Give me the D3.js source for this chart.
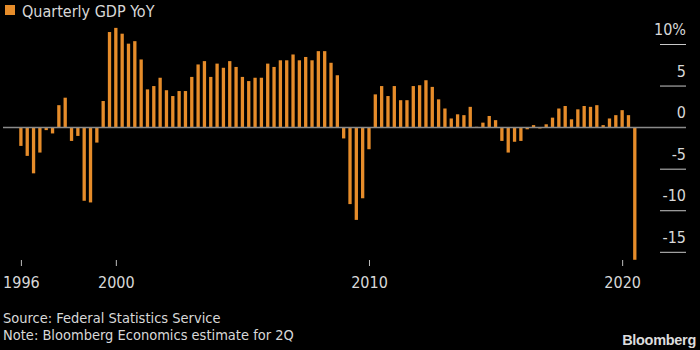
<!DOCTYPE html>
<html>
<head>
<meta charset="utf-8">
<script src="https://cdn.jsdelivr.net/npm/d3@7"></script>
<style>
  body { margin: 0; background: #000; }
  svg { display: block; font-family: "DejaVu Sans Condensed", "DejaVu Sans", sans-serif; font-stretch: condensed; }
</style>
</head>
<body>
<div id="chart"></div>
<script>
// first bar is 1996 Q1, one value per quarter up to 2020 Q2 (estimate)
const startYear = 1996
const gdpYoY = [
  -2.2, -3.4, -5.5, -3.0,   // 1996
  -0.3, -0.7, 2.7, 3.6,     // 1997
  -1.6, -1.0, -8.8, -9.0,   // 1998
  -1.8, 3.2, 11.5, 12.0,    // 1999
  11.3, 10.1, 10.4, 8.2,    // 2000
  4.6, 5.0, 6.0, 4.5,       // 2001
  3.8, 4.4, 4.4, 6.1,       // 2002
  7.6, 8.0, 6.1, 7.7,       // 2003
  7.2, 8.0, 7.3, 6.1,       // 2004
  5.6, 6.0, 6.0, 7.7,       // 2005
  7.3, 8.1, 8.1, 8.8,       // 2006
  8.1, 8.5, 8.1, 9.2,       // 2007
  9.2, 7.8, 6.3, -1.3,      // 2008
  -9.2, -11.1, -8.5, -2.6,  // 2009
  4.0, 5.0, 3.8, 5.0,       // 2010
  3.3, 3.3, 5.0, 5.1,       // 2011
  5.7, 4.9, 3.4, 2.3,       // 2012
  1.1, 1.6, 1.5, 2.5,       // 2013
  0.1, 0.6, 1.4, 0.9,       // 2014
  -1.6, -3.0, -1.7, -1.6,   // 2015
  -0.2, 0.3, -0.1, 0.4,     // 2016
  1.2, 2.3, 2.6, 1.0,       // 2017
  2.2, 2.6, 2.5, 2.7,       // 2018
  0.3, 1.1, 1.5, 2.1,       // 2019
  1.5, -15.9                // 2020
]
const yTickValues = [10, 5, 0, -5, -10, -15]
const xTickYears = [1996, 2000, 2010, 2020]

const titleText = 'Quarterly GDP YoY'
const sourceText = 'Source: Federal Statistics Service'
const noteText = 'Note: Bloomberg Economics estimate for 2Q'

let dms = {
    width: 700,
    height: 350,
    barLeft: 20.9,
    barRight: 634.8,
    yTop: 44.5,
    yBottom: 252.3,
    axisY: 260,
    gridLeft: 660,
    gridRight: 686
}

const orange = '#e68c2a'
const textColor = '#d8d8d8'

const svg = d3.select('#chart').append('svg')
    .attr('width', dms.width)
    .attr('height', dms.height)

svg.append('rect')
    .attr('width', dms.width)
    .attr('height', dms.height)
    .attr('fill', '#000')

// quarter position: Q4 of a year sits on the next year's start
const quarterTime = (d, i) => startYear + (i + 1) / 4

const x = d3.scaleLinear()
    .domain([startYear + 0.25, startYear + gdpYoY.length / 4])
    .range([dms.barLeft, dms.barRight])

const y = d3.scaleLinear()
    .domain([-15, 10])
    .range([dms.yBottom, dms.yTop])

// legend / title
svg.append('rect')
    .attr('x', 5).attr('y', 5)
    .attr('width', 10).attr('height', 10)
    .attr('fill', orange)
svg.append('text')
    .attr('x', 22).attr('y', 17)
    .attr('fill', textColor)
    .style('font-size', '16px')
    .text(titleText)

// y grid stubs + labels on the right
const yAxis = svg.append('g')
yAxis.selectAll('line')
    .data(yTickValues.filter(d => d !== 0))
    .join('line')
    .attr('x1', dms.gridLeft).attr('x2', dms.gridRight)
    .attr('y1', d => y(d)).attr('y2', d => y(d))
    .attr('stroke', '#c8c8c8')
    .attr('stroke-width', 1)
yAxis.selectAll('text')
    .data(yTickValues)
    .join('text')
    .attr('x', dms.gridRight)
    .attr('y', d => y(d) - 9.3)
    .attr('text-anchor', 'end')
    .attr('fill', textColor)
    .style('font-size', '16px')
    .text((d, i) => i === 0 ? d + '%' : d)

// bars
const barWidth = 3.3
svg.append('g')
    .selectAll('rect')
    .data(gdpYoY)
    .join('rect')
    .attr('x', (d, i) => x(quarterTime(d, i)) - barWidth / 2)
    .attr('y', d => y(Math.max(0, d)))
    .attr('width', barWidth)
    .attr('height', d => Math.abs(y(d) - y(0)))
    .attr('fill', orange)

// zero line over the bars
svg.append('line')
    .attr('x1', 3).attr('x2', dms.gridRight)
    .attr('y1', y(0)).attr('y2', y(0))
    .attr('stroke', '#8a8a8a')
    .attr('stroke-width', 1.5)

// x axis (first tick sits on the first quarter)
const xAxis = svg.append('g')
    .attr('transform', `translate(0, ${dms.axisY})`)
    .call(d3.axisBottom(x)
        .tickValues(xTickYears.map(yr => Math.max(yr, x.domain()[0])))
        .tickFormat(d => Math.floor(d))
        .tickSize(6)
        .tickPadding(11))
xAxis.select('.domain').remove()
xAxis.selectAll('line').attr('stroke', '#bdbdbd')
xAxis.selectAll('text')
    .attr('fill', textColor)
    .style('font-size', '16px')
xAxis.attr('font-family', null).attr('font-size', null)

// footer
svg.append('text')
    .attr('x', 3).attr('y', 323)
    .attr('fill', textColor)
    .style('font-size', '14.5px')
    .text(sourceText)
svg.append('text')
    .attr('x', 3).attr('y', 339.5)
    .attr('fill', textColor)
    .style('font-size', '14.5px')
    .text(noteText)

svg.append('text')
    .attr('x', 696).attr('y', 344.5)
    .attr('text-anchor', 'end')
    .attr('fill', '#dcdcdc')
    .style('font-family', '"Liberation Sans", Arial, sans-serif')
    .style('font-stretch', 'normal')
    .style('font-weight', 'bold')
    .style('font-size', '14.5px')
    .style('letter-spacing', '-0.3px')
    .text('Bloomberg')
</script>
</body>
</html>
